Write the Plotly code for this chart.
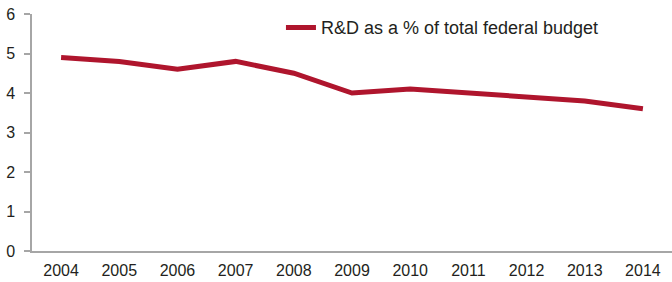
import plotly.graph_objects as go

years = ["2004", "2005", "2006", "2007", "2008", "2009", "2010", "2011", "2012", "2013", "2014"]
rd_share = [4.9, 4.8, 4.6, 4.8, 4.5, 4.0, 4.1, 4.0, 3.9, 3.8, 3.6]
y_ticks = [0, 1, 2, 3, 4, 5, 6]
series_name = "R&D as a % of total federal budget"

FONT = "Liberation Sans, Arial, sans-serif"
TXT = "#231F20"
AX = "#A6A6A6"

fig = go.Figure()
fig.add_trace(go.Scatter(
    x=years, y=rd_share, mode="lines", name=series_name,
    line=dict(color="#AF152D", width=5),
))

fig.update_layout(
    width=672, height=282,
    margin=dict(l=32, r=0, t=14, b=31, autoexpand=False),
    paper_bgcolor="white", plot_bgcolor="white",
    font=dict(family=FONT, size=16, color=TXT),
    showlegend=True,
    legend=dict(x=0.389, y=1.02, xanchor="left", yanchor="top",
                font=dict(family=FONT, size=18, color=TXT),
                bgcolor="rgba(0,0,0,0)", borderwidth=0),
    xaxis=dict(
        type="category", range=[-0.5, 10.5], automargin=False,
        showgrid=False, zeroline=False,
        showline=True, linecolor=AX, linewidth=1.5,
        ticks="outside", ticklen=4, tickcolor="rgba(0,0,0,0)",
        tickfont=dict(family=FONT, size=16, color=TXT),
    ),
    yaxis=dict(
        range=[0, 6], tickvals=y_ticks, automargin=False,
        showgrid=False, zeroline=False,
        showline=True, linecolor=AX, linewidth=1.5,
        ticks="outside", ticklen=6, tickcolor=AX, tickwidth=1.5,
        ticklabelstandoff=6,
        tickfont=dict(family=FONT, size=16, color=TXT),
    ),
)

fig.write_html("out.html", config={"displayModeBar": False},
               post_script="document.body.style.margin='0';document.body.style.overflow='hidden';")
